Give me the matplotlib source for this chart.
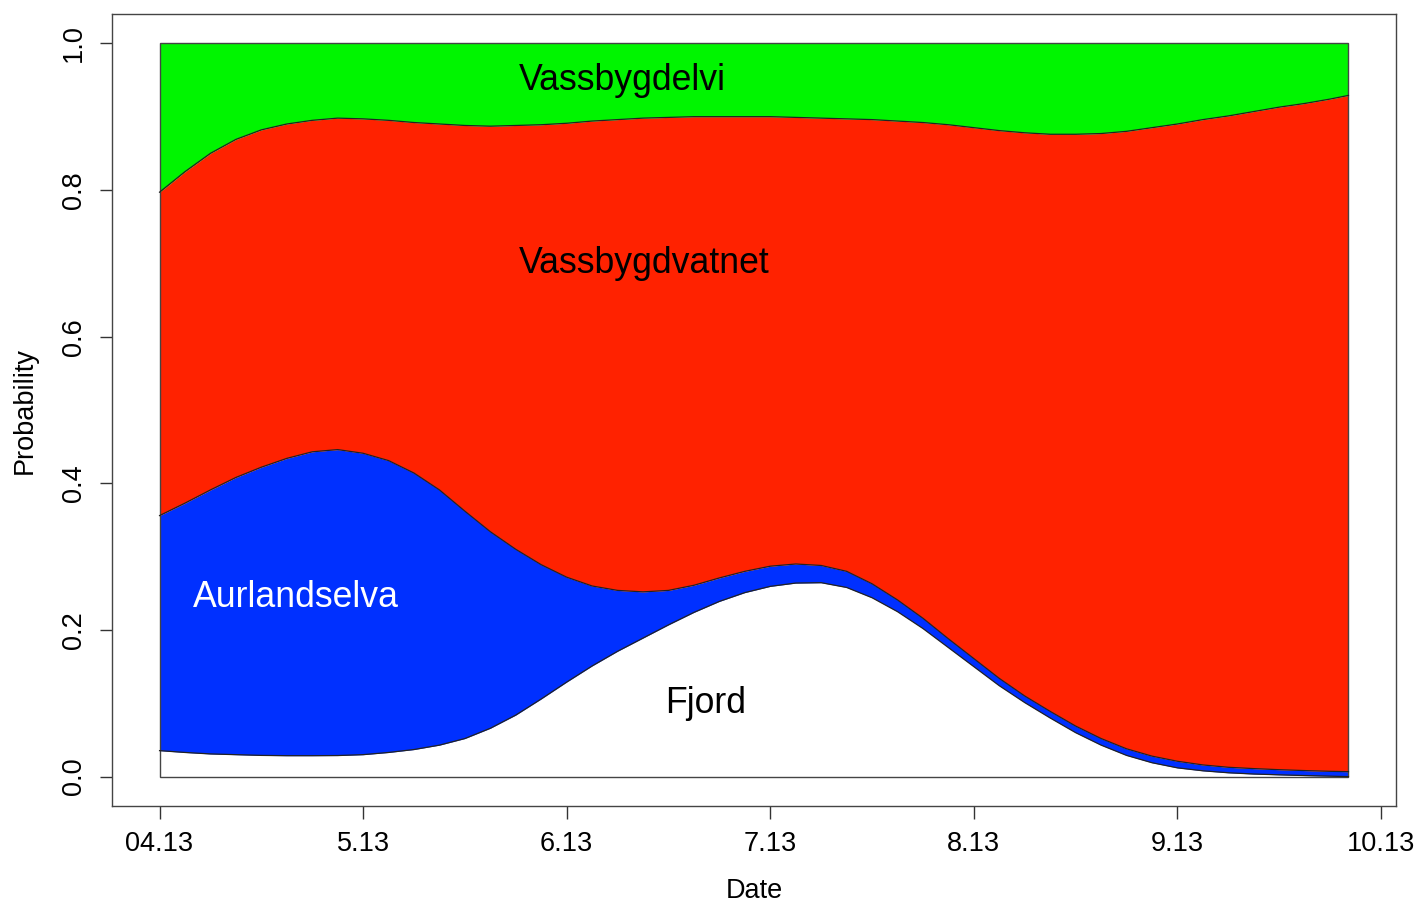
import matplotlib
matplotlib.use("Agg")
import matplotlib.pyplot as plt
from matplotlib.patches import Rectangle

plt.rcParams["font.family"] = ["Liberation Sans", "DejaVu Sans"]

# month of the year (4 = April 2013), every 1/8 month
months = [4.000, 4.125, 4.250, 4.375, 4.500, 4.625, 4.750, 4.875,
          5.000, 5.125, 5.250, 5.375, 5.500, 5.625, 5.750, 5.875,
          6.000, 6.125, 6.250, 6.375, 6.500, 6.625, 6.750, 6.875,
          7.000, 7.125, 7.250, 7.375, 7.500, 7.625, 7.750, 7.875,
          8.000, 8.125, 8.250, 8.375, 8.500, 8.625, 8.750, 8.875,
          9.000, 9.125, 9.250, 9.375, 9.500, 9.625, 9.750, 9.840]

# cumulative probability boundaries (bottom -> top)
cum_fjord = [0.0355, 0.033, 0.031, 0.030, 0.029, 0.0286, 0.0286, 0.0288,
             0.030, 0.033, 0.037, 0.043, 0.052, 0.066, 0.084, 0.106,
             0.129, 0.151, 0.171, 0.189, 0.207, 0.224, 0.239, 0.251,
             0.2595, 0.264, 0.2645, 0.258, 0.244, 0.225, 0.202, 0.176,
             0.150, 0.124, 0.101, 0.080, 0.060, 0.043, 0.029, 0.019,
             0.012, 0.008, 0.0053, 0.0036, 0.0025, 0.0015, 0.0007, 0.0]
cum_aurland = [0.356, 0.373, 0.391, 0.408, 0.422, 0.434, 0.443, 0.446,
               0.441, 0.431, 0.414, 0.391, 0.362, 0.334, 0.310, 0.289,
               0.272, 0.260, 0.254, 0.252, 0.254, 0.261, 0.271, 0.280,
               0.287, 0.290, 0.288, 0.280, 0.263, 0.241, 0.216, 0.188,
               0.161, 0.134, 0.110, 0.089, 0.069, 0.052, 0.038, 0.028,
               0.021, 0.016, 0.0128, 0.011, 0.0095, 0.0083, 0.0073, 0.0068]
cum_vatnet = [0.797, 0.825, 0.850, 0.869, 0.882, 0.890, 0.895, 0.898,
              0.897, 0.895, 0.892, 0.890, 0.888, 0.887, 0.888, 0.889,
              0.891, 0.894, 0.896, 0.898, 0.899, 0.900, 0.900, 0.900,
              0.900, 0.899, 0.898, 0.897, 0.896, 0.894, 0.892, 0.889,
              0.885, 0.881, 0.878, 0.876, 0.876, 0.877, 0.880, 0.885,
              0.890, 0.896, 0.901, 0.907, 0.913, 0.918, 0.924, 0.929]

tick_pos = [4, 5, 6, 7, 8, 9, 10]
tick_lab = ["04.13", "5.13", "6.13", "7.13", "8.13", "9.13", "10.13"]

labels = ["Vassbygdelvi", "Vassbygdvatnet", "Aurlandselva", "Fjord"]
label_pos = [(5.765, 0.949), (5.765, 0.700), (4.165, 0.244), (6.485, 0.100)]
label_col = ["black", "black", "white", "black"]

W, H = 1418, 901
fig = plt.figure(figsize=(W / 100, H / 100), dpi=100)
ax = fig.add_axes([112 / W, (H - 806) / H, (1396 - 112) / W, (806 - 14) / H])

ones = [1.0] * len(months)
zeros = [0.0] * len(months)
ax.fill_between(months, zeros, cum_fjord, color="white", lw=0)
ax.fill_between(months, cum_fjord, cum_aurland, color="#0030ff", lw=0)
ax.fill_between(months, cum_aurland, cum_vatnet, color="#ff2200", lw=0)
ax.fill_between(months, cum_vatnet, ones, color="#00f500", lw=0)
for c in (cum_fjord, cum_aurland, cum_vatnet):
    ax.plot(months, c, color="#222222", lw=0.9)

x0, x1 = months[0], months[-1]
ax.add_patch(Rectangle((x0, 0), x1 - x0, 1, fill=False, ec="#444444", lw=1.0))

for txt, (lx, ly), col in zip(labels, label_pos, label_col):
    ax.text(lx, ly, txt, color=col, fontsize=25.7, ha="left", va="center")

pad = (x1 - x0) * 0.04
ax.set_xlim(x0 - pad, x1 + pad)
ax.set_ylim(-0.04, 1.04)
ax.set_xticks(tick_pos)
ax.set_xticklabels(tick_lab)
ax.set_yticks([0.0, 0.2, 0.4, 0.6, 0.8, 1.0])
ax.set_yticklabels(["0.0", "0.2", "0.4", "0.6", "0.8", "1.0"], rotation=90, va="center")
ax.tick_params(direction="out", length=9, width=1, colors="#333333", labelsize=19.5,
               labelcolor="black", pad=9)
for s in ax.spines.values():
    s.set_color("#444444")
    s.set_linewidth(1.0)
ax.set_xlabel("Date", fontsize=19.5, labelpad=15)
ax.set_ylabel("Probability", fontsize=19.5, labelpad=17)

fig.savefig("out.png", dpi=100)
